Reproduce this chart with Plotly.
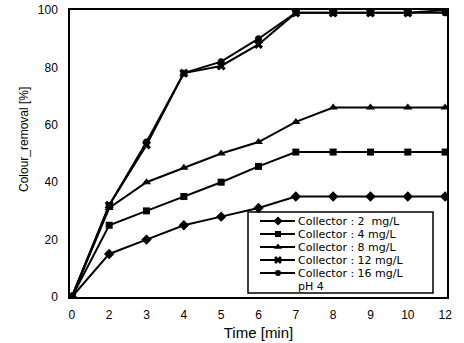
import plotly.graph_objects as go

time_labels = ["0", "2", "3", "4", "5", "6", "7", "8", "9", "10", "12"]
c2 = [0, 15, 20, 25, 28, 31, 35, 35, 35, 35, 35]
c4 = [0, 25, 30, 35, 40, 45.5, 50.5, 50.5, 50.5, 50.5, 50.5]
c8 = [0, 31, 40, 45, 50, 54, 61, 66, 66, 66, 66]
c12 = [0, 32, 53, 78, 80.5, 88, 99, 99, 99, 99, 100]
c16 = [0, 32, 54, 78, 82, 90, 99, 99, 99, 99, 99]

legend_names = ["Collector : 2  mg/L", "Collector : 4 mg/L", "Collector : 8 mg/L",
                "Collector : 12 mg/L", "Collector : 16 mg/L"]
legend_note = "pH 4"
series_values = [c2, c4, c8, c12, c16]
symbols = ["diamond", "square", "triangle-up", "x", "circle"]
sizes = [8, 7, 8, 8, 7]

# plot area in pixels (for the hand-built legend box)
L, R, T, B = 70, 17, 10, 46
W, H = 464, 343
PW, PH = W - L - R, H - T - B

fig = go.Figure()
for name, ys, sym, sz in zip(legend_names, series_values, symbols, sizes):
    fig.add_trace(go.Scatter(
        x=time_labels, y=ys, name=name, mode="lines+markers",
        line=dict(color="black", width=2),
        marker=dict(symbol=sym, size=sz, color="black"),
        showlegend=False,
    ))

# hand-built compact legend (pixel coordinates relative to plot-area bottom-left)
box_x0, box_x1, box_y0, box_y1 = 248 - L, 433 - L, 4, 85
row_y = [76, 63, 50, 37, 24]
note_y = 11
line_x = [260 - L, 295 - L]
mark_x = 278 - L
text_x = 297 - L
leg_font = dict(size=11, family="DejaVu Sans, sans-serif")

fig.add_shape(type="rect", xref="x2", yref="y2",
              x0=box_x0, x1=box_x1, y0=box_y0, y1=box_y1,
              line=dict(color="black", width=1.5), fillcolor="white", layer="below")
for name, sym, sz, ry in zip(legend_names, symbols, sizes, row_y):
    fig.add_trace(go.Scatter(
        x=line_x, y=[ry, ry], xaxis="x2", yaxis="y2", mode="lines",
        line=dict(color="black", width=2),
        showlegend=False, hoverinfo="skip",
    ))
    fig.add_trace(go.Scatter(
        x=[mark_x], y=[ry], xaxis="x2", yaxis="y2", mode="markers",
        marker=dict(symbol=sym, size=sz - 1, color="black"),
        showlegend=False, hoverinfo="skip",
    ))
    fig.add_annotation(xref="x2", yref="y2", x=text_x, y=ry, text=name,
                       showarrow=False, xanchor="left", yanchor="middle",
                       borderpad=0, font=leg_font)
fig.add_annotation(xref="x2", yref="y2", x=text_x, y=note_y, text=legend_note,
                   showarrow=False, xanchor="left", yanchor="middle",
                   borderpad=0, font=leg_font)

# y title placed like the original
fig.add_annotation(xref="paper", yref="paper", x=(24 - L) / PW, y=(297 - 140) / PH,
                   text="Colour_removal [%]", textangle=-90, showarrow=False,
                   xanchor="center", yanchor="middle", font=dict(size=12))

fig.update_layout(
    width=W, height=H,
    margin=dict(l=L, r=R, t=T, b=B, autoexpand=False),
    paper_bgcolor="white", plot_bgcolor="white",
    font=dict(family="Liberation Sans, Arial, sans-serif", color="black", size=12),
    showlegend=False,
    xaxis=dict(
        type="category", range=[-0.05, 10.05],
        showline=True, linecolor="black", linewidth=1.5, mirror=True,
        showgrid=False, zeroline=False, ticks="", ticklabelstandoff=6,
        tickfont=dict(size=12),
        title=dict(text="Time [min]", font=dict(size=15), standoff=6),
    ),
    yaxis=dict(
        range=[0, 100], tickvals=[0, 20, 40, 60, 80, 100],
        showline=True, linecolor="black", linewidth=1.5, mirror=True,
        showgrid=False, zeroline=False, ticks="", ticklabelstandoff=8,
        tickfont=dict(size=12),
    ),
    xaxis2=dict(overlaying="x", range=[0, PW], visible=False, fixedrange=True),
    yaxis2=dict(overlaying="y", range=[0, PH], visible=False, fixedrange=True),
)

fig.write_html("out.html", config={"displayModeBar": False},
               post_script="document.body.style.margin='0';")
